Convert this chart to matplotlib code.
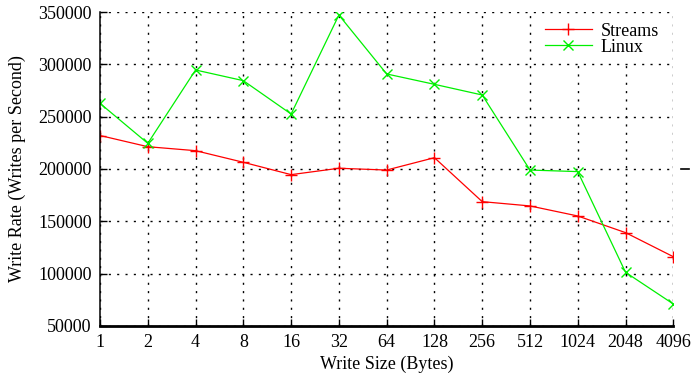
import matplotlib
matplotlib.use('Agg')
import matplotlib.pyplot as plt
import matplotlib.transforms as mtransforms

plt.rcParams['font.family'] = ['Liberation Serif', 'DejaVu Serif']
plt.rcParams['font.size'] = 13

# Write sizes in bytes and measured write rates
sizes = ['1', '2', '4', '8', '16', '32', '64', '128', '256', '512', '1024', '2048', '4096']
streams = [232000, 221300, 217500, 206400, 194600, 200700, 199000, 210800,
           168800, 164700, 155100, 139200, 116200]
linux = [262700, 224500, 294600, 284400, 252500, 347100, 290800, 280900,
         270700, 199000, 197500, 101300, 71000]
yticks = [50000, 100000, 150000, 200000, 250000, 300000, 350000]

fig = plt.figure(figsize=(6.96, 3.81), dpi=100)
ax = fig.add_axes([0.1437, 0.1444, 0.8237, 0.8241])

x = list(range(len(sizes)))
ax.plot(x, streams, color='#ff0000', lw=0.9, marker='+', ms=8, mew=1.0, label='Streams')
ax.plot(x, linux, color='#00f000', lw=0.9, marker='x', ms=7, mew=1.0, label='Linux')

ax.set_xlim(0, len(sizes) - 1)
ax.set_ylim(50000, 350000)
ax.set_xticks(x)
ax.set_xticklabels(sizes)
ax.set_yticks(yticks)
ax.set_yticklabels([str(v) for v in yticks])

ax.grid(True, color='black', linestyle=(0, (1.5, 4.5)), linewidth=1.0)
ax.set_axisbelow(True)
for s in ['top', 'right']:
    ax.spines[s].set_visible(False)
ax.spines['bottom'].set_linewidth(2.0)
ax.spines['left'].set_linewidth(1.1)
ax.tick_params(direction='in', length=5, width=1.0, pad=6)

ax.set_xlabel('Write Size (Bytes)', labelpad=3)
ax.set_ylabel('Write Rate (Writes per Second)', labelpad=9)

# small mark at the right edge beside 200000
trans = mtransforms.blended_transform_factory(ax.transAxes, ax.transData)
ax.plot([1.013, 1.027], [200000, 200000], color='black', lw=1.2,
        transform=trans, clip_on=False)

# legend on a plain white box that hides the grid behind it
leg = ax.legend(loc='upper right', bbox_to_anchor=(0.986, 0.986), frameon=True,
                facecolor='white', edgecolor='none', framealpha=1.0, fancybox=False,
                handlelength=2.6, handletextpad=0.5, labelspacing=-0.05,
                borderpad=0.35, borderaxespad=0.0)

fig.savefig('out.png', dpi=100)
